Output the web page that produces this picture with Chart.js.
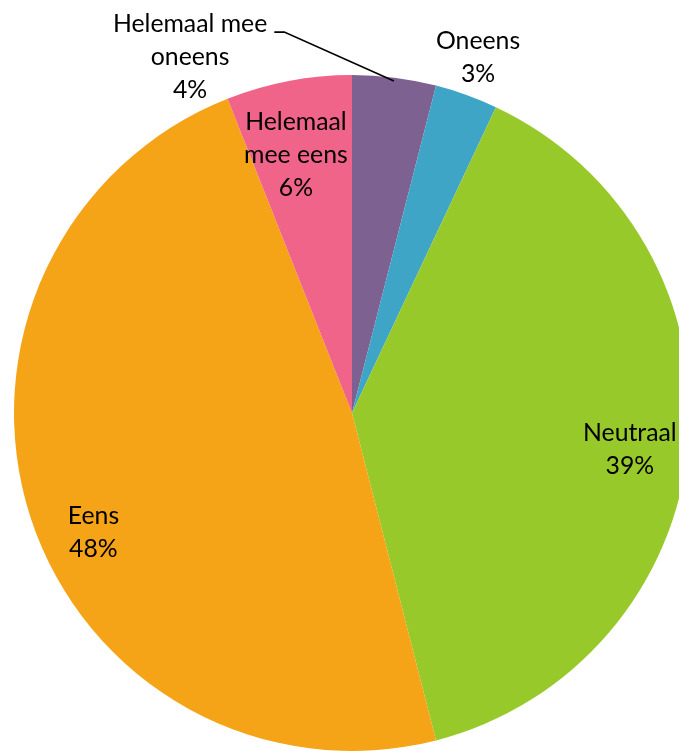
<!DOCTYPE html>
<html>
<head>
<meta charset="utf-8">
<script src="https://cdn.jsdelivr.net/npm/chart.js@4"></script>
<style>
  html, body { margin: 0; padding: 0; background: #fff; overflow: hidden; }
  #wrap { width: 704px; height: 751px; position: relative; }
</style>
</head>
<body>
<div id="wrap"><canvas id="c"></canvas></div>
<script>
const categories = ['Helemaal mee oneens', 'Oneens', 'Neutraal', 'Eens', 'Helemaal mee eens'];
const percentages = [4, 3, 39, 48, 6];
const sliceColors = ['#7d6291', '#3fa5c6', '#98c92a', '#f5a418', '#f06489'];

// Text lines of each slice label (the percentage is appended below them)
const labelLines = [
  ['Helemaal mee', 'oneens'],
  ['Oneens'],
  ['Neutraal'],
  ['Eens'],
  ['Helemaal', 'mee eens']
];
// Centre of each label block relative to the pie centre, in units of the radius
const labelOffsets = [
  [-0.479, -1.053],
  [0.373, -1.053],
  [0.822, 0.108],
  [-0.765, 0.355],
  [-0.166, -0.763]
];
// Labels that get a leader line to their slice
const leaderFor = [true, false, false, false, false];

const FONT = '24.8px Lato';
const LINE_H = 33;

const sliceLabels = {
  id: 'sliceLabels',
  afterDatasetsDraw(chart) {
    const ctx = chart.ctx;
    const meta = chart.getDatasetMeta(0);
    ctx.save();
    ctx.font = FONT;
    ctx.fillStyle = '#000';
    ctx.textAlign = 'center';
    ctx.textBaseline = 'middle';
    meta.data.forEach((arc, i) => {
      const R = arc.outerRadius;
      const cx = arc.x + labelOffsets[i][0] * R;
      const cy = arc.y + labelOffsets[i][1] * R;
      const lines = labelLines[i].concat([percentages[i] + '%']);
      const top = cy - (lines.length - 1) * LINE_H / 2;
      lines.forEach((t, k) => ctx.fillText(t, cx, top + k * LINE_H));
      if (leaderFor[i]) {
        const w = ctx.measureText(lines[0]).width;
        const sx = cx + w / 2 + 7;
        const sy = top + 8;
        const mid = (arc.startAngle + arc.endAngle) / 2;
        const ex = arc.x + Math.cos(mid) * R * 0.99;
        const ey = arc.y + Math.sin(mid) * R * 0.99;
        ctx.beginPath();
        ctx.strokeStyle = '#000';
        ctx.lineWidth = 1.6;
        ctx.moveTo(sx, sy);
        ctx.lineTo(sx + 10, sy);
        ctx.lineTo(ex, ey);
        ctx.stroke();
      }
    });
    ctx.restore();
  }
};

new Chart(document.getElementById('c'), {
  type: 'pie',
  data: {
    labels: categories,
    datasets: [{
      data: percentages,
      backgroundColor: sliceColors,
      borderWidth: 0
    }]
  },
  options: {
    responsive: true,
    maintainAspectRatio: false,
    animation: false,
    layout: { padding: { left: 14, right: 14, top: 75, bottom: 0 } },
    plugins: {
      legend: { display: false },
      tooltip: { enabled: false }
    }
  },
  plugins: [sliceLabels]
});
</script>
</body>
</html>
